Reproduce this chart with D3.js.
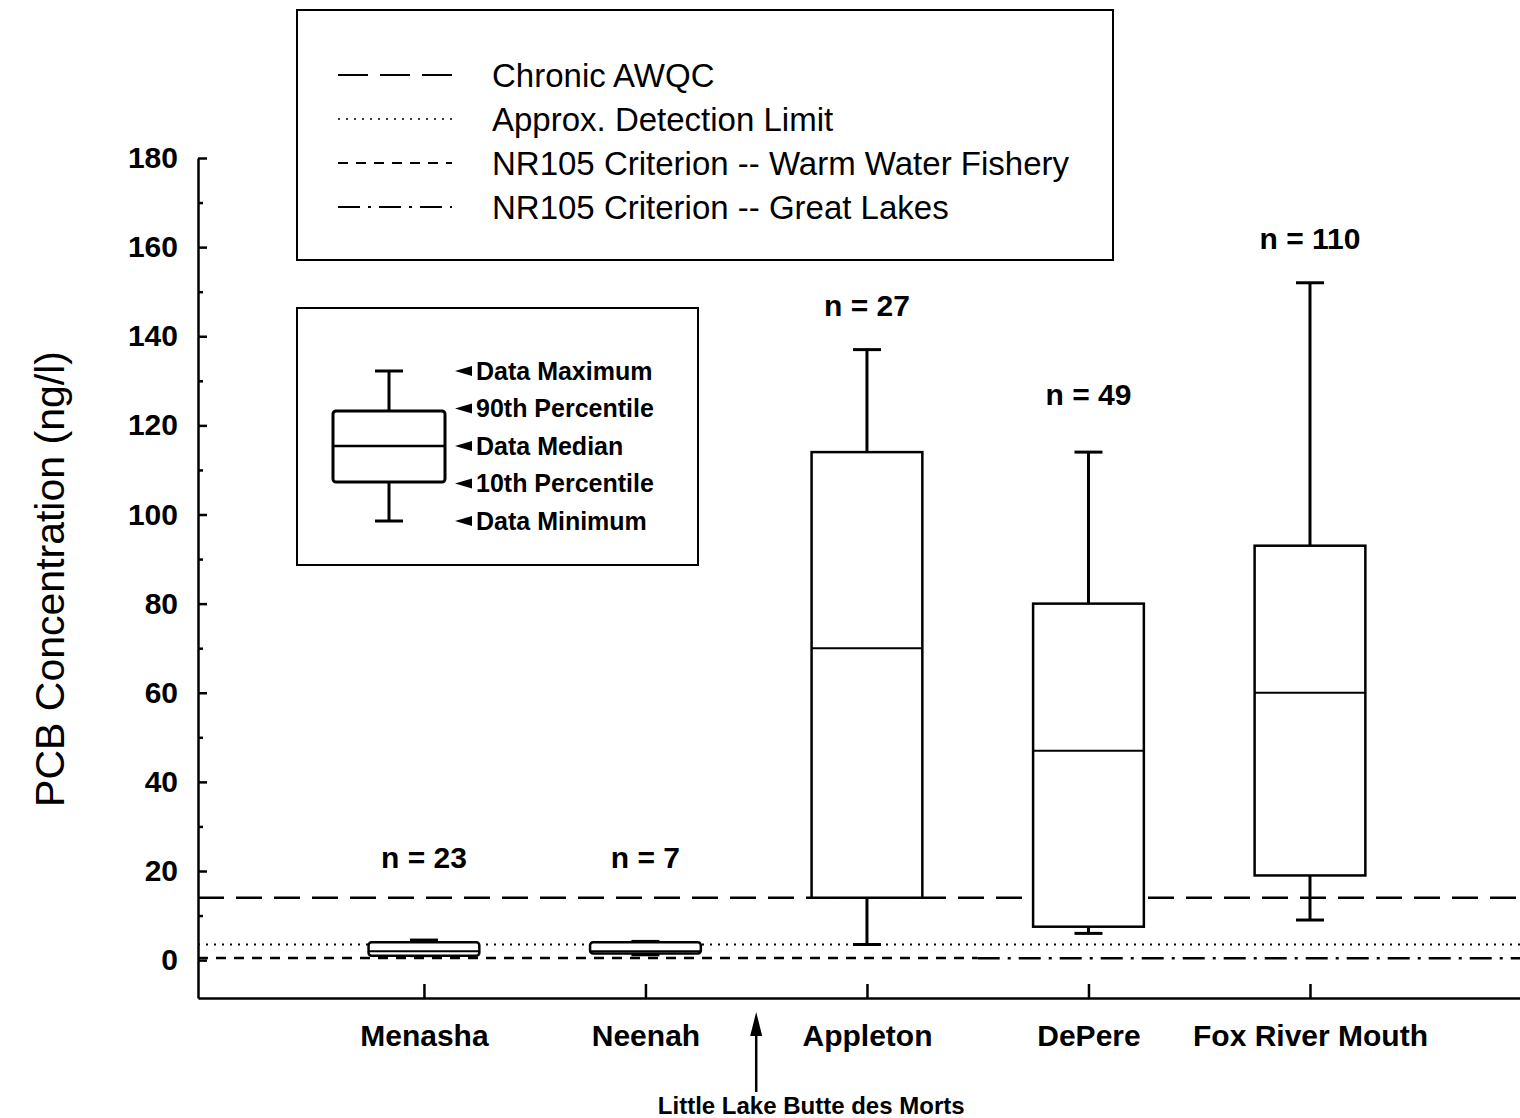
<!DOCTYPE html>
<head>
  <meta charset="utf-8">
  <script src="https://d3js.org/d3.v7.min.js"></script>
  <style>
    body { margin: 0; background: #fff; }
    text { font-family: "Liberation Sans", Arial, sans-serif; fill: #000; }
    .axis path, .axis line { stroke: #000; stroke-width: 2.5; }
    .axis text { font-size: 30px; font-weight: bold; }
  </style>
</head>

<body>
  <script>

  // sites along the river
  var categories = ["Menasha", "Neenah", "Appleton", "DePere", "Fox River Mouth"];
  var dataMin   = [1.0, 1.2, 3.5, 6.0, 9.0];
  var pct10     = [1.0, 1.5, 14, 7.5, 19];
  var medians   = [2.0, 2.0, 70, 47, 60];
  var pct90     = [4.0, 4.0, 114, 80, 93];
  var dataMax   = [4.5, 4.2, 137, 114, 152];
  var nCounts   = [23, 7, 27, 49, 110];
  var nLabelAt  = [23, 23, 147, 127, 162];   // where the "n =" labels sit (ng/l)

  // criteria lines: value and the stretch of river (in site positions) they cover
  var refNames  = ["Chronic AWQC", "Approx. Detection Limit",
                   "NR105 Criterion -- Warm Water Fishery", "NR105 Criterion -- Great Lakes"];
  var refValues = [14, 3.5, 0.5, 0.4];
  var refFrom   = [-0.02, -0.02, -0.02, 3.5];
  var refTo     = [6, 6, 3.5, 6];

  var yMajor = [0, 20, 40, 60, 80, 100, 120, 140, 160, 180];
  var yMinor = [10, 30, 50, 70, 90, 110, 130, 150, 170];

  var legendBox = ["Data Maximum", "90th Percentile", "Data Median", "10th Percentile", "Data Minimum"];

  var width = 1520, height = 1118;
  var dashes = ["26,12", "2,6", "10,8", "22,8,3,8"];

  var svg = d3.select("body").append("svg")
      .attr("width", width)
      .attr("height", height);

  var x = d3.scaleLinear().domain([-0.02, 6]).range([198, 1531.5]);
  var y = d3.scaleLinear().domain([-8.5, 180]).range([998, 158]);

  // y axis, ticks pointing inward
  svg.append("g")
      .attr("class", "axis")
      .attr("transform", "translate(" + x(-0.02) + ",0)")
      .call(d3.axisLeft(y).tickValues(yMajor).tickSizeInner(-9).tickSizeOuter(0).tickPadding(20));

  svg.append("g")
      .attr("class", "axis")
      .attr("transform", "translate(" + x(-0.02) + ",0)")
      .call(d3.axisLeft(y).tickValues(yMinor).tickSizeInner(-5).tickSizeOuter(0).tickFormat(""))
      .select(".domain").remove();

  // x axis
  svg.append("g")
      .attr("class", "axis")
      .attr("transform", "translate(0," + y(-8.5) + ")")
      .call(d3.axisBottom(x)
        .tickValues([1, 2, 3, 4, 5])
        .tickSizeInner(-14).tickSizeOuter(0).tickPadding(27)
        .tickFormat(function(d) { return categories[d - 1]; }));

  // criteria lines
  svg.append("g").selectAll("line")
    .data(refValues)
    .enter().append("line")
      .attr("x1", function(d, i) { return x(refFrom[i]); })
      .attr("x2", function(d, i) { return x(refTo[i]); })
      .attr("y1", function(d) { return y(d); })
      .attr("y2", function(d) { return y(d); })
      .attr("stroke", "#000")
      .attr("stroke-width", function(d, i) { return i == 1 ? 2 : 2.5; })
      .attr("stroke-dasharray", function(d, i) { return dashes[i]; });

  // box plots
  var bw = (x(1) - x(0)) * 0.5, cap = 28;
  var box = svg.append("g").selectAll("g")
    .data(categories)
    .enter().append("g")
      .attr("transform", function(d, i) { return "translate(" + x(i + 1) + ",0)"; });

  box.append("line")
      .attr("y1", function(d, i) { return y(dataMax[i]); })
      .attr("y2", function(d, i) { return y(dataMin[i]); })
      .attr("stroke", "#000").attr("stroke-width", 3);

  box.append("line")
      .attr("x1", -cap / 2).attr("x2", cap / 2)
      .attr("y1", function(d, i) { return y(dataMax[i]); })
      .attr("y2", function(d, i) { return y(dataMax[i]); })
      .attr("stroke", "#000").attr("stroke-width", 3);

  box.append("line")
      .attr("x1", -cap / 2).attr("x2", cap / 2)
      .attr("y1", function(d, i) { return y(dataMin[i]); })
      .attr("y2", function(d, i) { return y(dataMin[i]); })
      .attr("stroke", "#000").attr("stroke-width", 3);

  box.append("rect")
      .attr("x", -bw / 2).attr("width", bw)
      .attr("y", function(d, i) { return y(pct90[i]); })
      .attr("height", function(d, i) { return y(pct10[i]) - y(pct90[i]); })
      .attr("rx", function(d, i) { return pct90[i] < 10 ? 3 : 0; })
      .attr("fill", "#fff")
      .attr("stroke", "#000").attr("stroke-width", 2.5);

  box.append("line")
      .attr("x1", -bw / 2).attr("x2", bw / 2)
      .attr("y1", function(d, i) { return y(medians[i]); })
      .attr("y2", function(d, i) { return y(medians[i]); })
      .attr("stroke", "#000").attr("stroke-width", 2);

  box.append("text")
      .attr("y", function(d, i) { return y(nLabelAt[i]); })
      .attr("dy", "0.35em")
      .attr("text-anchor", "middle")
      .style("font-size", "30px")
      .style("font-weight", "bold")
      .text(function(d, i) { return "n = " + nCounts[i]; });

  // y title
  svg.append("text")
      .attr("transform", "translate(64,579)rotate(-90)")
      .attr("text-anchor", "middle")
      .style("font-size", "41px")
      .text("PCB Concentration (ng/l)");

  // Little Lake Butte des Morts marker
  var ax = x(2.5);
  svg.append("line")
      .attr("x1", ax).attr("x2", ax)
      .attr("y1", 1092).attr("y2", 1030)
      .attr("stroke", "#000").attr("stroke-width", 2.5);
  svg.append("path")
      .attr("d", "M" + ax + ",1012L" + (ax - 6) + ",1036L" + (ax + 6) + ",1036Z")
      .attr("fill", "#000");
  svg.append("text")
      .attr("x", ax + 55).attr("y", 1114)
      .attr("text-anchor", "middle")
      .style("font-size", "24px")
      .style("font-weight", "bold")
      .text("Little Lake Butte des Morts");

  // criteria legend
  var leg = svg.append("g");
  leg.append("rect")
      .attr("x", 297).attr("y", 10).attr("width", 816).attr("height", 250)
      .attr("fill", "#fff").attr("stroke", "#000").attr("stroke-width", 2);

  var legRow = leg.selectAll("g.row")
    .data(refNames)
    .enter().append("g")
      .attr("class", "row")
      .attr("transform", function(d, i) { return "translate(0," + (75 + i * 44) + ")"; });

  legRow.append("line")
      .attr("x1", 338).attr("x2", 452)
      .attr("stroke", "#000")
      .attr("stroke-width", function(d, i) { return i == 1 ? 1.5 : 2; })
      .attr("stroke-dasharray", function(d, i) { return i == 0 ? "30,12" : dashes[i]; });

  legRow.append("text")
      .attr("x", 492).attr("dy", "0.35em")
      .style("font-size", "33px")
      .text(function(d) { return d; });

  // box legend
  var bl = svg.append("g");
  bl.append("rect")
      .attr("x", 297).attr("y", 308).attr("width", 401).attr("height", 257)
      .attr("fill", "#fff").attr("stroke", "#000").attr("stroke-width", 2);

  var blY = [371, 411, 446, 482, 521];
  bl.append("line").attr("x1", 389).attr("x2", 389).attr("y1", blY[0]).attr("y2", blY[4])
      .attr("stroke", "#000").attr("stroke-width", 3);
  bl.append("line").attr("x1", 375).attr("x2", 403).attr("y1", blY[0]).attr("y2", blY[0])
      .attr("stroke", "#000").attr("stroke-width", 3);
  bl.append("line").attr("x1", 375).attr("x2", 403).attr("y1", blY[4]).attr("y2", blY[4])
      .attr("stroke", "#000").attr("stroke-width", 3);
  bl.append("rect").attr("x", 333).attr("y", blY[1]).attr("width", 112).attr("height", blY[3] - blY[1])
      .attr("rx", 3).attr("fill", "#fff").attr("stroke", "#000").attr("stroke-width", 3);
  bl.append("line").attr("x1", 333).attr("x2", 445).attr("y1", blY[2]).attr("y2", blY[2])
      .attr("stroke", "#000").attr("stroke-width", 2.5);

  var blRow = bl.selectAll("g.lab")
    .data(legendBox)
    .enter().append("g")
      .attr("class", "lab")
      .attr("transform", function(d, i) { return "translate(0," + (371 + i * 37.5) + ")"; });

  blRow.append("path")
      .attr("d", "M455,0L472,-5L472,5Z")
      .attr("fill", "#000");

  blRow.append("text")
      .attr("x", 476).attr("dy", "0.35em")
      .style("font-size", "25px")
      .style("font-weight", "bold")
      .text(function(d) { return d; });

  </script>
</body>
